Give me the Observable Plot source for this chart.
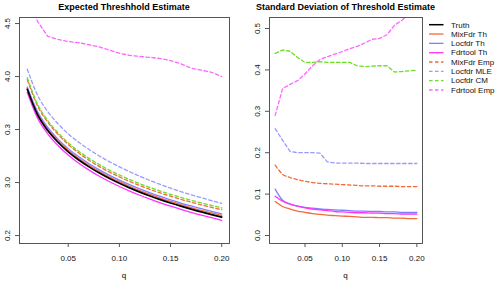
<!DOCTYPE html>
<html>
<head>
<meta charset="utf-8">
<script src="https://cdn.jsdelivr.net/npm/d3@7"></script>
<script src="https://cdn.jsdelivr.net/npm/@observablehq/plot@0.6"></script>
<style>
  html, body { margin: 0; padding: 0; background: #fff; }
  #wrap { position: relative; width: 496px; height: 284px; font-family: "Liberation Sans", Arial, sans-serif; overflow: hidden; }
  #wrap svg { position: absolute; top: 0; }
  .title { position: absolute; top: 2px; font-weight: bold; font-size: 9px; white-space: nowrap; transform: translateX(-50%); color: #000; }
  .xlab { position: absolute; top: 271px; font-size: 8px; transform: translateX(-50%); }
</style>
</head>
<body>
<div id="wrap">
  <div class="title" style="left:124px">Expected Threshhold Estimate</div>
  <div class="title" style="left:345.5px">Standard Deviation of Threshold Estimate</div>
  <div class="xlab" style="left:124px">q</div>
  <div class="xlab" style="left:345.5px">q</div>
</div>
<script>
// ---- data ----
const q = [0.01,0.02,0.03,0.04,0.05,0.06,0.07,0.08,0.09,0.10,0.11,0.12,0.13,0.14,0.15,0.16,0.17,0.18,0.19,0.20];

const seriesNames = ["Truth","MixFdr Th","Locfdr Th","Fdrtool Th","MixFdr Emp","Locfdr MLE","Locfdr CM","Fdrtool Emp"];
const seriesColors = ["#000000","#f26b3a","#7f7fff","#ff33ff","#f26b3a","#9a9aff","#6edc2a","#ff66ff"];
const seriesDashed = [false,false,false,false,true,true,true,true];

// Expected threshold estimate
const meanTruth      = [3.88,3.64,3.49,3.38,3.29,3.215,3.15,3.092,3.04,2.993,2.95,2.91,2.873,2.839,2.807,2.777,2.749,2.723,2.698,2.674];
const meanMixFdrTh   = [3.89,3.655,3.505,3.395,3.305,3.23,3.165,3.107,3.055,3.008,2.965,2.925,2.888,2.854,2.822,2.792,2.764,2.738,2.713,2.69];
const meanLocfdrTh   = [3.90,3.67,3.52,3.41,3.32,3.245,3.18,3.122,3.07,3.023,2.98,2.94,2.903,2.869,2.837,2.807,2.779,2.753,2.728,2.704];
const meanFdrtoolTh  = [3.85,3.61,3.46,3.35,3.26,3.185,3.12,3.062,3.01,2.963,2.92,2.88,2.843,2.809,2.777,2.747,2.719,2.693,2.668,2.644];
const meanMixFdrEmp  = [3.97,3.725,3.57,3.455,3.36,3.281,3.213,3.153,3.10,3.053,3.01,2.971,2.935,2.902,2.871,2.842,2.815,2.79,2.766,2.744];
const meanLocfdrMLE  = [4.07,3.825,3.67,3.555,3.46,3.382,3.314,3.253,3.198,3.148,3.102,3.059,3.019,2.982,2.947,2.915,2.885,2.857,2.83,2.804];
const meanLocfdrCM   = [3.99,3.74,3.585,3.47,3.375,3.297,3.23,3.171,3.118,3.071,3.028,2.989,2.953,2.92,2.889,2.86,2.833,2.808,2.784,2.761];
const meanFdrtoolEmp = [4.80,4.52,4.38,4.35,4.33,4.32,4.30,4.28,4.25,4.22,4.20,4.19,4.18,4.17,4.15,4.12,4.08,4.06,4.04,4.00];

// Standard deviation of threshold estimate
const sdMixFdrTh   = [0.082,0.070,0.064,0.059,0.056,0.053,0.051,0.049,0.048,0.047,0.046,0.045,0.044,0.044,0.043,0.043,0.042,0.042,0.041,0.041];
const sdLocfdrTh   = [0.112,0.085,0.076,0.071,0.068,0.066,0.064,0.063,0.062,0.061,0.060,0.059,0.059,0.058,0.058,0.057,0.057,0.056,0.056,0.056];
const sdFdrtoolTh  = [0.095,0.083,0.076,0.071,0.067,0.064,0.062,0.060,0.058,0.057,0.056,0.055,0.055,0.054,0.054,0.053,0.053,0.052,0.052,0.052];
const sdMixFdrEmp  = [0.170,0.148,0.140,0.135,0.131,0.128,0.126,0.125,0.124,0.123,0.122,0.121,0.120,0.120,0.119,0.119,0.119,0.118,0.118,0.118];
const sdLocfdrMLE  = [0.258,0.230,0.203,0.200,0.200,0.200,0.199,0.178,0.175,0.175,0.175,0.175,0.174,0.174,0.174,0.174,0.174,0.174,0.174,0.174];
const sdLocfdrCM   = [0.440,0.448,0.445,0.430,0.418,0.418,0.420,0.418,0.418,0.418,0.418,0.410,0.408,0.409,0.410,0.410,0.395,0.396,0.398,0.399];
const sdFdrtoolEmp = [0.290,0.355,0.365,0.374,0.390,0.410,0.425,0.432,0.438,0.444,0.451,0.457,0.465,0.474,0.476,0.485,0.508,0.520,0.535,0.550];

const xTicks = [0.05,0.10,0.15,0.20];
const xTickLabels = ["0.05","0.10","0.15","0.20"];
const yTicksLeft = [2.5,3.0,3.5,4.0,4.5];
const yTickLabelsLeft = ["0.2","3.0","0.3","4.0","4.5"];
const yTicksRight = [0.0,0.1,0.2,0.3,0.4,0.5];
const yTickLabelsRight = ["0.0","0.1","0.2","0.3","0.4","0.5"];

// ---- build tables ----
function table(seriesArrays, names) {
  const rows = [];
  seriesArrays.forEach((arr, i) => {
    if (!arr) return;
    arr.forEach((v, j) => rows.push({series: names[i], idx: i, q: q[j], v}));
  });
  return rows;
}
const leftData = table([meanTruth,meanMixFdrTh,meanLocfdrTh,meanFdrtoolTh,meanMixFdrEmp,meanLocfdrMLE,meanLocfdrCM,meanFdrtoolEmp], seriesNames);
const rightData = table([null,sdMixFdrTh,sdLocfdrTh,sdFdrtoolTh,sdMixFdrEmp,sdLocfdrMLE,sdLocfdrCM,sdFdrtoolEmp], seriesNames);

const drawOrder = [4,5,6,7,1,2,3,0];

function lineMarks(data, smoothSet) {
  return drawOrder.map(i => Plot.line(data.filter(d => d.idx === i), {
    x: "q", y: "v",
    stroke: seriesColors[i],
    strokeWidth: i === 0 ? 1.7 : 1.3,
    strokeDasharray: seriesDashed[i] ? "3.5,2.5" : null,
    curve: smoothSet.includes(i) ? "monotone-x" : "linear",
    clip: true
  }));
}

function axes(yTicks, yLabels) {
  return [
    Plot.axisX({ticks: xTicks, tickFormat: (d) => xTickLabels[xTicks.indexOf(d)], tickSize: 4, tickPadding: 8, label: null, fontSize: 8, stroke: "#555", color: "#111"}),
    Plot.axisY({ticks: yTicks, tickFormat: (d) => yLabels[yTicks.indexOf(d)], tickSize: 4, tickPadding: 6, label: null, fontSize: 8, tickRotate: -90, textAnchor: "middle", lineAnchor: "bottom", stroke: "#555", color: "#111"})
  ];
}

const left = Plot.plot({
  width: 250, height: 284,
  marginLeft: 19, marginRight: 21, marginTop: 17, marginBottom: 41,
  style: {fontFamily: "Liberation Sans, Arial, sans-serif", background: "transparent"},
  x: {domain: [0.0024, 0.2076]},
  y: {domain: [2.425, 4.557]},
  marks: [
    ...lineMarks(leftData, [0,1,2,3,4,5,6]),
    Plot.frame({stroke: "#555"}),
    ...axes(yTicksLeft, yTickLabelsLeft)
  ]
});
left.style.left = "0px";

const right = Plot.plot({
  width: 246, height: 284,
  marginLeft: 19, marginRight: 74, marginTop: 17, marginBottom: 41,
  style: {fontFamily: "Liberation Sans, Arial, sans-serif", background: "transparent"},
  x: {domain: [0.0024, 0.2076]},
  y: {domain: [-0.0193, 0.5266]},
  marks: [
    ...lineMarks(rightData, [1,2,3,4]),
    Plot.frame({stroke: "#555"}),
    ...axes(yTicksRight, yTickLabelsRight)
  ]
});
right.style.left = "250px";

const wrap = document.getElementById("wrap");
wrap.appendChild(left);
wrap.appendChild(right);

// legend
const leg = d3.select(wrap).append("svg")
  .attr("width", 70).attr("height", 90)
  .style("left", "426px").style("top", "15px");
seriesNames.forEach((name, i) => {
  const y = 9.7 + i * 9.33;
  leg.append("line").attr("x1", 3).attr("x2", 17.5).attr("y1", y).attr("y2", y)
    .attr("stroke", seriesColors[i]).attr("stroke-width", i === 0 ? 1.5 : 1.3)
    .attr("stroke-dasharray", seriesDashed[i] ? "3.5,2.5" : null);
  leg.append("text").attr("x", 25).attr("y", y).attr("dy", "0.35em")
    .attr("font-size", 8).attr("font-family", "Liberation Sans, Arial, sans-serif")
    .attr("fill", "#111").text(name);
});
</script>
</body>
</html>
